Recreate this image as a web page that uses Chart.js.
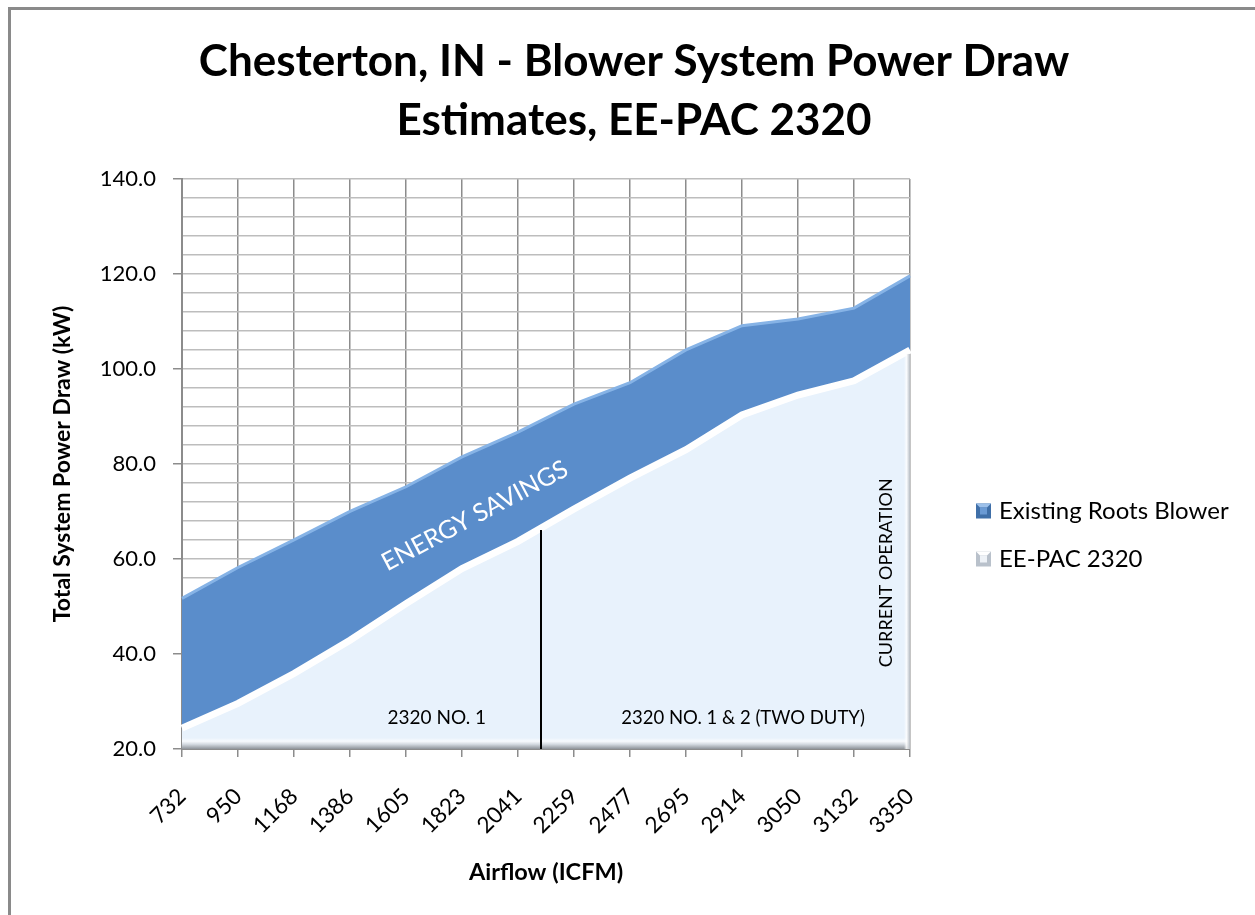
<!DOCTYPE html>
<html><head><meta charset="utf-8">
<script src="https://cdn.jsdelivr.net/npm/chart.js@4/dist/chart.umd.min.js"></script>
<style>html,body{margin:0;padding:0;background:#fff;overflow:hidden;} #wrap{width:1255px;height:915px;position:relative;}</style>
</head><body><div id="wrap"><canvas id="c" width="1255" height="915"></canvas></div>
<script>
// ---- data ----
const categories = ['732','950','1168','1386','1605','1823','2041','2259','2477','2695','2914','3050','3132','3350'];
const existingRoots = [51.7, 58.2, 64.0, 70.0, 75.2, 81.5, 86.7, 92.6, 97.1, 104.0, 109.1, 110.5, 112.8, 119.6];
const eePac2320 = [24.4, 29.6, 35.9, 42.9, 50.6, 58.0, 63.7, 70.5, 77.0, 83.0, 90.3, 94.5, 97.5, 104.0];
const seriesNames = ['Existing Roots Blower', 'EE-PAC 2320'];
const titleLines = ['Chesterton, IN - Blower System Power Draw', 'Estimates, EE-PAC 2320'];
const xAxisTitle = 'Airflow (ICFM)';
const yAxisTitle = 'Total System Power Draw (kW)';
const yMin = 20, yMax = 140, yMinorStep = 4, yMajorStep = 20;
// annotation texts (in data coordinates: category index, kW)
const noteTexts = ['ENERGY SAVINGS', '2320 NO. 1', '2320 NO. 1 & 2 (TWO DUTY)', 'CURRENT OPERATION'];
const notePositions = [[5.23, 69.1], [4.55, 26.5], [10.02, 26.5], [12.57, 57.1]];
const noteRotations = [-28, 0, 0, -90];
const noteSizes = [25, 19, 18.5, 18];
const dividerAt = [6.41, 66.1]; // category index, top value

const FONT = 'Lato';
Chart.defaults.font.family = FONT;
Chart.defaults.color = '#000';

const BLUE = '#5a8dcb';
const BLUE_EDGE = '#86b3e6';
const LIGHT = '#e8f2fc';

const pagePlugin = {
  id: 'page',
  beforeDraw(chart) {
    const ctx = chart.ctx;
    ctx.save();
    ctx.fillStyle = '#fff';
    ctx.fillRect(0, 0, chart.width, chart.height);
    ctx.strokeStyle = '#8a8a8a';
    ctx.lineWidth = 3;
    ctx.strokeRect(9.5, 8.5, 2000, 2000);
    ctx.restore();
  }
};

const decoPlugin = {
  id: 'deco',
  afterDatasetsDraw(chart) {
    const ctx = chart.ctx;
    const xs = chart.scales.x, ys = chart.scales.y;
    const a = chart.chartArea;
    ctx.save();
    // floor bevel
    const g = ctx.createLinearGradient(0, a.bottom - 11, 0, a.bottom);
    g.addColorStop(0, 'rgba(255,255,255,0)');
    g.addColorStop(0.3, 'rgba(248,250,253,0.9)');
    g.addColorStop(0.6, '#cfd5dc');
    g.addColorStop(1, '#8e9399');
    ctx.fillStyle = g;
    ctx.fillRect(a.left, a.bottom - 11, a.right - a.left, 11);
    // right wall bevel on light area
    const topY = ys.getPixelForValue(eePac2320[eePac2320.length - 1]);
    const g2 = ctx.createLinearGradient(a.right - 6, 0, a.right, 0);
    g2.addColorStop(0, 'rgba(255,255,255,0)');
    g2.addColorStop(0.4, 'rgba(255,255,255,0.8)');
    g2.addColorStop(1, '#b4bac1');
    ctx.fillStyle = g2;
    ctx.fillRect(a.right - 6, topY + 4, 6, a.bottom - topY - 4);
    // divider line
    ctx.strokeStyle = '#000';
    ctx.lineWidth = 2;
    ctx.beginPath();
    const dx = Math.round(xs.getPixelForValue(dividerAt[0]));
    ctx.moveTo(dx, ys.getPixelForValue(dividerAt[1]));
    ctx.lineTo(dx, a.bottom);
    ctx.stroke();
    // notes
    noteTexts.forEach((t, i) => {
      const px = xs.getPixelForValue(notePositions[i][0]);
      const py = ys.getPixelForValue(notePositions[i][1]);
      ctx.save();
      ctx.translate(px, py);
      ctx.rotate(noteRotations[i] * Math.PI / 180);
      ctx.textAlign = 'center';
      ctx.textBaseline = 'middle';
      ctx.font = noteSizes[i] + 'px ' + FONT;
      ctx.fillStyle = i === 0 ? '#fff' : '#000';
      ctx.fillText(t, 0, 0);
      ctx.restore();
    });
    ctx.restore();
  }
};

const legendPlugin = {
  id: 'sideLegend',
  afterDraw(chart) {
    const ctx = chart.ctx;
    ctx.save();
    const items = [
      { name: seriesNames[0], outer: '#3f6fa8', inner: '#6a9ad4', hi: '#9cc0ea' },
      { name: seriesNames[1], outer: '#b9c1cb', inner: '#eef2f7', hi: '#ffffff' }
    ];
    const x0 = 976, y0 = 511, gap = 48, s = 15;
    items.forEach((it, i) => {
      const cy = y0 + i * gap;
      const sx = x0, sy = cy - s / 2;
      ctx.fillStyle = it.outer;
      ctx.fillRect(sx, sy, s, s);
      ctx.fillStyle = it.hi;
      ctx.beginPath();
      ctx.moveTo(sx, sy); ctx.lineTo(sx + s, sy); ctx.lineTo(sx + s - 4, sy + 4); ctx.lineTo(sx + 4, sy + 4); ctx.closePath(); ctx.fill();
      ctx.fillStyle = it.inner;
      ctx.fillRect(sx + 4, sy + 4, s - 8, s - 8);
      ctx.fillStyle = '#000';
      ctx.font = '24px ' + FONT;
      ctx.textAlign = 'left';
      ctx.textBaseline = 'middle';
      ctx.fillText(it.name, 999, cy);
    });
    ctx.restore();
  }
};

new Chart(document.getElementById('c'), {
  type: 'line',
  data: {
    labels: categories,
    datasets: [
      {
        label: seriesNames[0], data: existingRoots, order: 1,
        fill: 'start', backgroundColor: BLUE, borderColor: BLUE_EDGE, borderWidth: 3,
        pointRadius: 0, tension: 0
      },
      {
        label: seriesNames[1], data: eePac2320, order: 0,
        fill: 'start', backgroundColor: LIGHT, borderColor: '#ffffff', borderWidth: 7,
        pointRadius: 0, tension: 0
      }
    ]
  },
  options: {
    responsive: false, animation: false, devicePixelRatio: 1,
    layout: { padding: { left: 13, right: 0, top: 0, bottom: 0 } },
    plugins: {
      legend: { display: false },
      tooltip: { enabled: false },
      title: {
        display: true, text: titleLines, color: '#000',
        font: { size: 44, weight: 'bold', family: FONT, lineHeight: 1.34 },
        padding: { top: 32, bottom: 29 }
      }
    },
    scales: {
      x: {
        offset: false,
        grid: { color: '#8c8c8c', lineWidth: 1.5, tickLength: 8, tickColor: '#8c8c8c' },
        border: { color: '#8c8c8c', width: 2 },
        ticks: { autoSkip: false, minRotation: 45, maxRotation: 45, font: { size: 22.5 }, color: '#000', padding: 26 },
        title: { display: true, text: xAxisTitle, font: { size: 23.5, weight: 'bold' }, color: '#000', padding: { top: 0, bottom: 28 } },
        afterFit(s) { s.height = 166; }
      },
      y: {
        min: yMin, max: yMax,
        grid: {
          color: '#bdbdbd', lineWidth: 1.5, tickLength: 9,
          tickColor: (c) => (c.tick && c.tick.value % yMajorStep === 0) ? '#8c8c8c' : 'rgba(0,0,0,0)'
        },
        border: { color: '#8c8c8c', width: 2 },
        ticks: {
          stepSize: yMinorStep, autoSkip: false, font: { size: 22 }, color: '#000', padding: 17,
          callback: (v) => (v % yMajorStep === 0 ? v.toFixed(1) : '')
        },
        title: { display: true, text: yAxisTitle, font: { size: 23, weight: 'bold' }, color: '#000', padding: { top: 36, bottom: 0 } },
        afterFit(s) { s.width = 169; }
      },
      yr: {
        position: 'right', display: true, min: yMin, max: yMax,
        grid: { drawOnChartArea: false, drawTicks: false },
        border: { display: false },
        ticks: { display: false },
        afterFit(s) { s.width = 345; }
      }
    }
  },
  plugins: [pagePlugin, decoPlugin, legendPlugin]
});
</script>
</body></html>
